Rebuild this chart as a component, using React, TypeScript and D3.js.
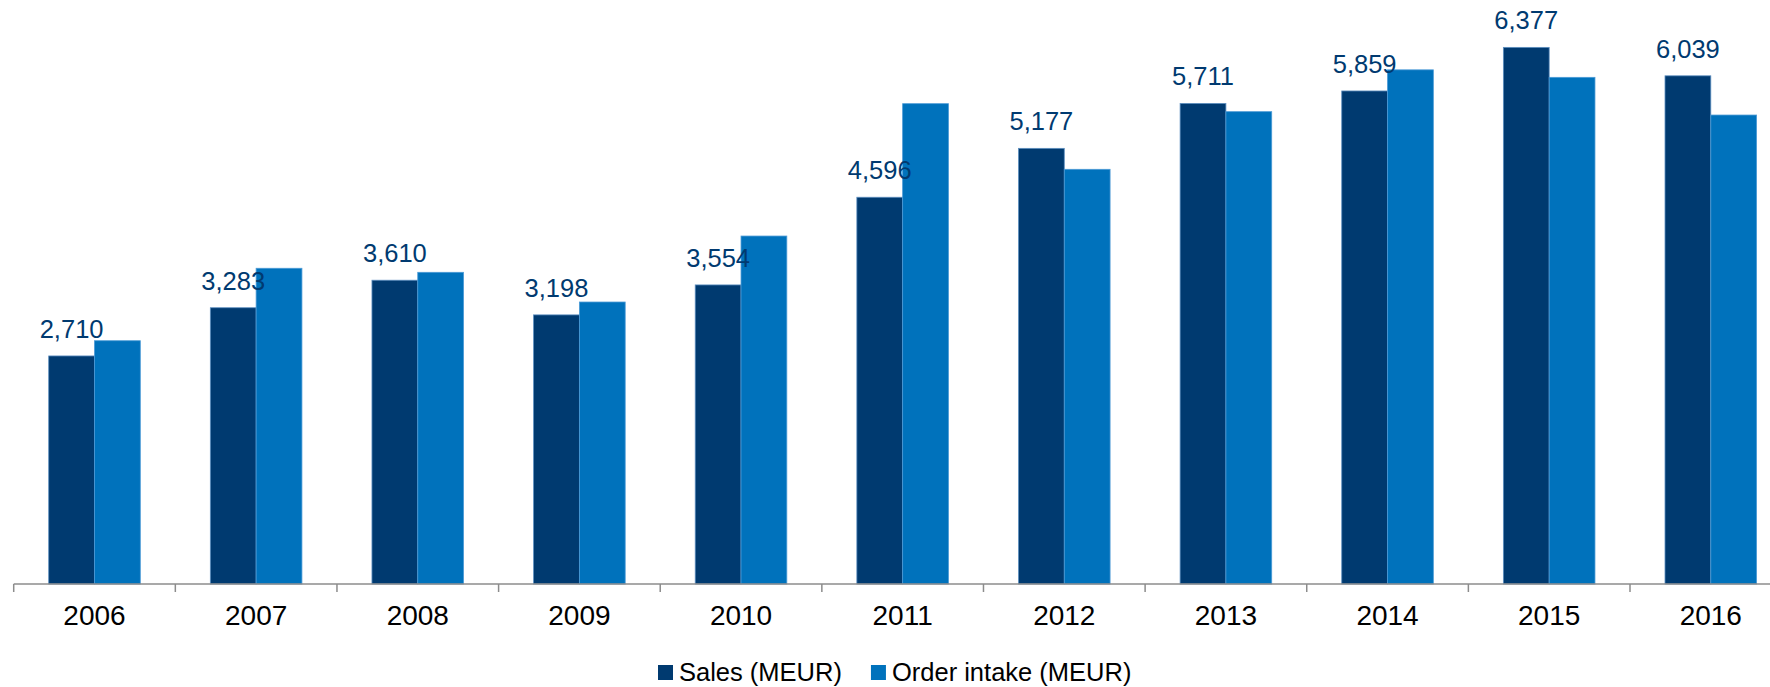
import { useRef, useEffect } from "react";
import * as d3 from "d3";

// Values
const years = ["2006", "2007", "2008", "2009", "2010", "2011", "2012", "2013", "2014", "2015", "2016"];
const sales = [2710, 3283, 3610, 3198, 3554, 4596, 5177, 5711, 5859, 6377, 6039];
const orderIntake = [2891, 3752, 3704, 3351, 4135, 5708, 4928, 5613, 6110, 6021, 5573];
const seriesNames = ["Sales (MEUR)", "Order intake (MEUR)"];
const seriesColors = ["#003A70", "#0072BC"];

const App = () => {
  const svgRef = useRef<SVGSVGElement | null>(null);

  useEffect(() => {
    if (!svgRef.current) return;
    const width = 1770;
    const height = 687;
    const font = "Arial, 'Liberation Sans', sans-serif";

    const svg = d3.select(svgRef.current).attr("width", width).attr("height", height);
    svg.selectAll("*").remove();

    const baseY = 584;
    const x0 = d3.scaleBand().domain(years).range([13.7, 13.7 + 161.63 * 11]).paddingInner(0).paddingOuter(0);
    const x1 = d3.scaleBand().domain(["s", "o"]).range([35, 126.6]);
    const y = d3.scaleLinear().domain([0, 6940]).range([baseY, baseY - 584]);

    const g = svg.append("g");

    // Bars
    const groups = g
      .selectAll("g.year")
      .data(years)
      .enter()
      .append("g")
      .attr("transform", (d) => `translate(${x0(d)},0)`);

    groups
      .append("rect")
      .attr("x", x1("s")!)
      .attr("width", x1.bandwidth())
      .attr("y", (_, i) => y(sales[i]))
      .attr("height", (_, i) => baseY - y(sales[i]))
      .attr("fill", seriesColors[0])
      .attr("stroke", "#5d8fc0")
      .attr("stroke-width", 0.8);

    groups
      .append("rect")
      .attr("x", x1("o")!)
      .attr("width", x1.bandwidth())
      .attr("y", (_, i) => y(orderIntake[i]))
      .attr("height", (_, i) => baseY - y(orderIntake[i]))
      .attr("fill", seriesColors[1])
      .attr("stroke", "#4b9ad6")
      .attr("stroke-width", 0.8);

    // Value labels for sales
    groups
      .append("text")
      .attr("x", x1("s")! + x1.bandwidth() / 2)
      .attr("y", (_, i) => y(sales[i]) - 18)
      .attr("text-anchor", "middle")
      .style("font-family", font)
      .style("font-size", "25.5px")
      .style("fill", "#003A70")
      .text((_, i) => d3.format(",")(sales[i]));

    // X axis
    const axis = g.append("g").attr("transform", `translate(0,${baseY})`);
    axis
      .append("line")
      .attr("x1", 13.7)
      .attr("x2", width)
      .attr("stroke", "#8c8c8c")
      .attr("stroke-width", 1.5);
    axis
      .selectAll("line.tick")
      .data(years)
      .enter()
      .append("line")
      .attr("class", "tick")
      .attr("x1", (d) => x0(d)!)
      .attr("x2", (d) => x0(d)!)
      .attr("y1", 0)
      .attr("y2", 8)
      .attr("stroke", "#8c8c8c")
      .attr("stroke-width", 1.5);
    axis
      .selectAll("text")
      .data(years)
      .enter()
      .append("text")
      .attr("x", (d) => x0(d)! + x0.bandwidth() / 2)
      .attr("y", 41)
      .attr("text-anchor", "middle")
      .style("font-family", font)
      .style("font-size", "28px")
      .style("fill", "#000")
      .text((d) => d);

    // Legend
    const legend = svg.append("g").attr("transform", "translate(658,0)");
    let lx = 0;
    seriesNames.forEach((name, i) => {
      legend
        .append("rect")
        .attr("x", lx)
        .attr("y", 665)
        .attr("width", 15)
        .attr("height", 15)
        .attr("fill", seriesColors[i]);
      const t = legend
        .append("text")
        .attr("x", lx + 21)
        .attr("y", 681)
        .style("font-family", font)
        .style("font-size", "25.5px")
        .style("fill", "#000")
        .text(name);
      const w = (t.node() as SVGTextElement).getComputedTextLength();
      lx += 21 + w + 29;
    });
  }, []);

  return (
    <div style={{ position: "absolute", left: 0, top: 0 }}>
      <svg ref={svgRef} style={{ display: "block", background: "#fff" }}></svg>
    </div>
  );
};

export default App;
